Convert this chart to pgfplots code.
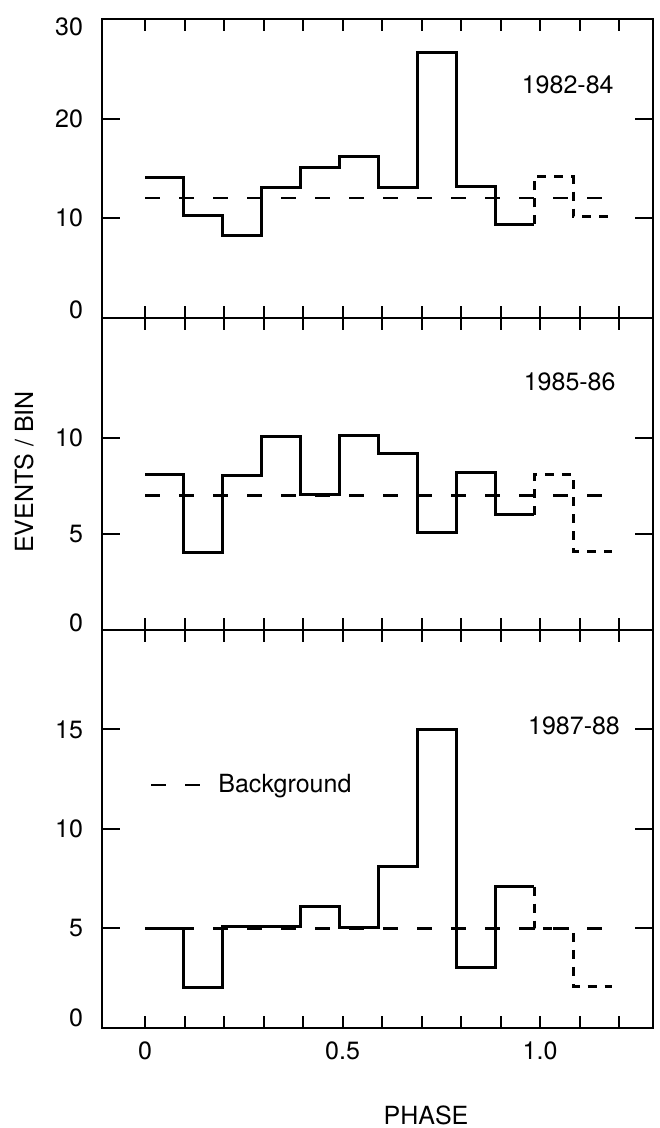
\documentclass[border=0pt]{standalone}
\usepackage{fontspec}
\setmainfont{TeX Gyre Heros}
\usepackage{pgfplots}
\pgfplotsset{compat=1.18}

\newcommand\lab{\fontsize{12.5}{15}\selectfont}

\pgfplotsset{
  panel/.style={
    scale only axis, width=275.5pt,
    xmin=-0.109, xmax=1.286, ymin=0,
    xtick={0,0.1,0.2,0.3,0.4,0.5,0.6,0.7,0.8,0.9,1.0,1.1,1.2},
    xticklabels={},
    tick align=inside, tick pos=both,
    xticklabel pos=lower, yticklabel pos=left,
    major tick length=9pt,
    xtick style={/pgfplots/major tick length=6pt},
    axis line style={line width=1.2pt},
    every tick/.append style={line width=1pt, black},
    ticklabel style={font=\lab},
    yticklabel style={xshift=-6pt},
    xticklabel style={yshift=-3.3pt},
    clip=false,
  },
  hist/.style={const plot mark left, no marks, black, line width=1.5pt},
  histrep/.style={hist, dash pattern=on 4.5pt off 4pt},
  bkg/.style={no marks, black, line width=1.1pt, dash pattern=on 7.5pt off 9.5pt},
}

\begin{document}
\begin{tikzpicture}
\path[use as bounding box] (0,0) rectangle (329.5pt,564pt);

% 1982-84
\begin{axis}[panel, at={(51pt,405pt)}, anchor=south west,
  height=149.5pt, ymax=30,
  ytick={0,10,20,30},
  yticklabels={\raisebox{4pt}[\height][\depth]{0},10,20,\raisebox{-4pt}[\height][\depth]{30}}]
\addplot[hist] coordinates {(0,14.1) (0.0985,10.3) (0.197,8.3) (0.2955,13.1)
  (0.394,15.1) (0.4925,16.2) (0.591,13.05) (0.6895,26.6) (0.788,13.15)
  (0.8865,9.4) (0.985,9.4)};
\addplot[histrep] coordinates {(0.985,9.4) (0.985,14.2) (1.0835,10.2) (1.182,10.2)};
\addplot[bkg] coordinates {(0,12) (1.19,12)};
\node[font=\lab] at (axis cs:1.07,23.4) {1982-84};
\end{axis}

% 1985-86
\begin{axis}[panel, at={(51pt,249pt)}, anchor=south west,
  height=156pt, ymax=16.25,
  ytick={0,5,10},
  yticklabels={\raisebox{3.5pt}[\height][\depth]{0},5,10}]
\addplot[hist] coordinates {(0,8.1) (0.0985,4.05) (0.197,8.05) (0.2955,10.1)
  (0.394,7.05) (0.4925,10.15) (0.591,9.2) (0.6895,5.1) (0.788,8.2)
  (0.8865,6.0) (0.985,6.0)};
\addplot[histrep] coordinates {(0.985,6.0) (0.985,8.1) (1.0835,4.1) (1.182,4.1)};
\addplot[bkg] coordinates {(0,7) (1.19,7)};
\node[font=\lab] at (axis cs:1.075,12.9) {1985-86};
\end{axis}

% 1987-88
\begin{axis}[panel, at={(51pt,50pt)}, anchor=south west,
  height=199pt, ymax=20,
  ytick={0,5,10,15},
  yticklabels={\raisebox{5pt}[\height][\depth]{0},5,10,15},
  xticklabels={0,,,,,0.5,,,,,1.0,,},
  legend style={at={(axis cs:0.012,12.2)}, anchor=west, draw=none, fill=none,
    inner sep=0pt, font=\lab},
  legend image code/.code={\draw[#1] (0pt,0pt) -- (26pt,0pt);}]
\addplot[hist, forget plot] coordinates {(0,5.0) (0.0985,2.05) (0.197,5.1) (0.2955,5.1)
  (0.394,6.1) (0.4925,5.07) (0.591,8.1) (0.6895,15.0) (0.788,3.05)
  (0.8865,7.1) (0.985,7.1)};
\addplot[histrep, forget plot] coordinates {(0.985,7.1) (0.985,5.0) (1.0835,2.1) (1.182,2.1)};
\addplot[bkg] coordinates {(0,5) (1.19,5)};
\addlegendentry{\hspace{5pt}Background}
\node[font=\lab] at (axis cs:1.086,15.2) {1987-88};
\end{axis}

\node[font=\lab, rotate=90] at (12pt,328pt) {EVENTS / BIN};
\node[font=\lab] at (213pt,6.5pt) {PHASE};
\end{tikzpicture}
\end{document}
